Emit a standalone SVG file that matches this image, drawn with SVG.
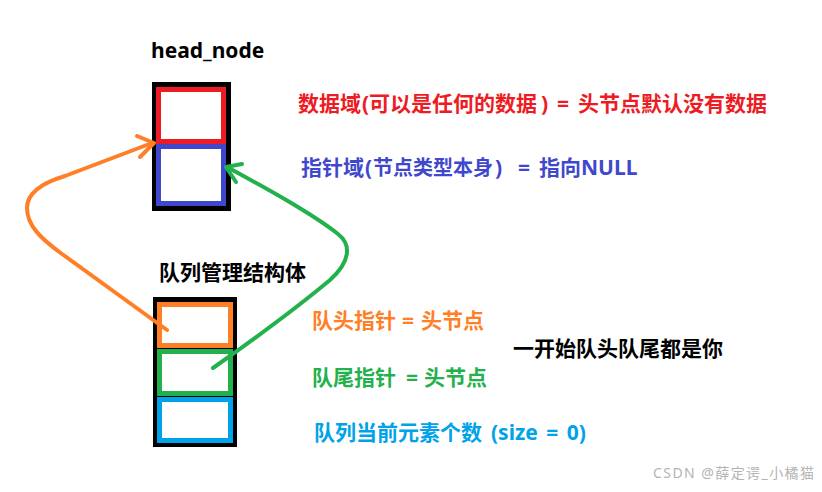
<svg xmlns="http://www.w3.org/2000/svg" width="822" height="492" viewBox="0 0 822 492">
<style>
  text { font-family: "Noto Sans", "Noto Sans CJK SC", sans-serif; font-weight: bold; font-size: 21px; }
  .frame { fill: #000; }
  .cell { fill: #fff; stroke-width: 5; }
  .conn { fill: none; stroke-width: 4; stroke-linecap: round; stroke-linejoin: round; }
</style>
<rect width="822" height="492" fill="#fff"/>
<g id="head_node">
  <text x="151" y="58" fill="#000">head_node</text>
  <rect class="frame" x="152" y="82" width="79" height="129"/>
  <rect class="cell" x="158.5" y="89.5" width="65" height="52" stroke="#ed1c24"/>
  <rect class="cell" x="158.5" y="146.5" width="65" height="57" stroke="#3f48cc"/>
</g>
<g id="queue">
  <text x="159" y="280" fill="#000">队列管理结构体</text>
  <rect class="frame" x="153" y="297" width="84" height="150"/>
  <rect class="cell" x="159.5" y="304.5" width="71" height="41" stroke="#ff7f27"/>
  <rect class="cell" x="159.5" y="351.5" width="71" height="42" stroke="#22b14c"/>
  <rect class="cell" x="159.5" y="399.5" width="71" height="41" stroke="#00a2e8"/>
</g>
<g id="labels">
  <text y="111" fill="#ed1c24"><tspan x="298">数据域</tspan><tspan x="362">(</tspan><tspan x="369">可以是任何的数据</tspan><tspan x="541">)</tspan><tspan x="557">=</tspan><tspan x="578">头节点默认没有数据</tspan></text>
  <text y="175" fill="#3f48cc"><tspan x="301">指针域</tspan><tspan x="365">(</tspan><tspan x="373" style="font-size:20px">节点类型本身</tspan><tspan x="495">)</tspan><tspan x="518">=</tspan><tspan x="539">指向NULL</tspan></text>
  <text y="328" fill="#ff7f27"><tspan x="312">队头指针</tspan><tspan x="402">=</tspan><tspan x="421">头节点</tspan></text>
  <text x="513" y="356" fill="#000">一开始队头队尾都是你</text>
  <text y="385" fill="#22b14c"><tspan x="312">队尾指针</tspan><tspan x="406">=</tspan><tspan x="424">头节点</tspan></text>
  <text y="440" fill="#00a2e8"><tspan x="314">队列当前元素个数</tspan><tspan x="491" style="word-spacing:3px">(size = 0)</tspan></text>
  <text x="653" y="478" fill="#b4b4b4" textLength="161" style="font-weight:normal;font-size:14px">CSDN @薛定谔_小橘猫</text>
</g>
<g id="connectors">
  <path class="conn" stroke="#ff7f27" d="M167,330 L62,254 C40,238 27,225 27,208 C27,192 45,182 65,176 L152,143"/>
  <path class="conn" stroke="#ff7f27" d="M137,136 L154,143 L140,157"/>
  <path class="conn" stroke="#22b14c" d="M213,368 C260,335 300,305 330,280 C350,262 352,245 338,234 C310,212 260,185 227,167"/>
  <path class="conn" stroke="#22b14c" d="M242,164 L226,167 L236,182"/>
</g>
</svg>
